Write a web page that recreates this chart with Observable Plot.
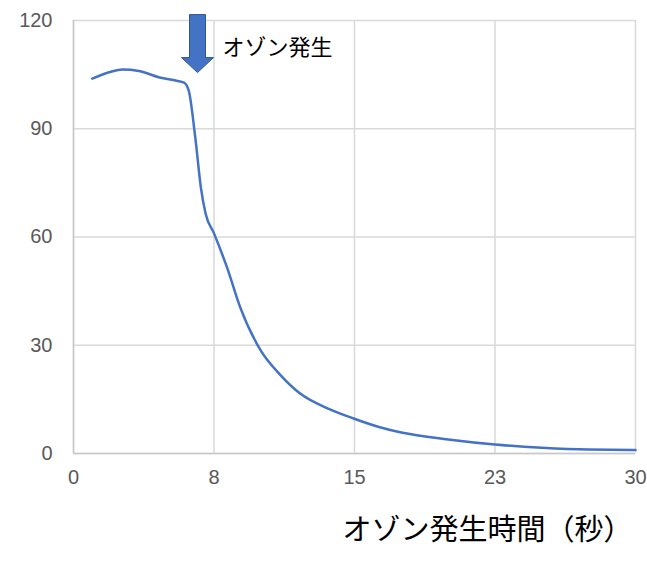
<!DOCTYPE html>
<html><head><meta charset="utf-8">
<script src="https://cdn.jsdelivr.net/npm/d3@7"></script>
<script src="https://cdn.jsdelivr.net/npm/@observablehq/plot@0.6"></script>
<style>
body{margin:0;background:#fff;}
</style>
</head><body>
<div id="chart"></div>
<script>
const seconds = [1, 2, 2.6, 3.5, 4.6, 5.5, 5.9, 6.15, 6.5, 6.8, 7.05, 7.5, 8.2, 8.9, 10, 11, 12.1, 13.56, 14.95, 16.4, 17.5, 20, 22.5, 25, 27.5, 30];
const values = [103.9, 105.8, 106.4, 106, 104.2, 103.3, 102.8, 100.6, 87.6, 73.7, 66.5, 61, 51.5, 40.5, 28.5, 22, 16.6, 12.5, 9.7, 7.2, 5.8, 3.9, 2.5, 1.6, 1.1, 1.0];
const xTicks = [0, 7.5, 15, 22.5, 30];
const yTicks = [0, 30, 60, 90, 120];
const arrowX = [6.62];
const arrowY = [113.6];
const noteText = ["オゾン発生"];
const noteX = [7.95];
const noteY = [112.5];
const xTitle = "オゾン発生時間（秒）";

const data = seconds.map((s, i) => ({s, v: values[i]}));

const blockArrow = {
  draw(ctx, size) {
    const sw = 8, hw = 16, top = -29, neck = 14, tip = 29;
    ctx.moveTo(-sw, top);
    ctx.lineTo(sw, top);
    ctx.lineTo(sw, neck);
    ctx.lineTo(hw, neck);
    ctx.lineTo(0, tip);
    ctx.lineTo(-hw, neck);
    ctx.lineTo(-sw, neck);
    ctx.closePath();
  }
};

const chart = Plot.plot({
  width: 647,
  height: 569,
  marginLeft: 73,
  marginRight: 12,
  marginTop: 20,
  marginBottom: 116,
  style: {fontFamily: "'Liberation Sans', Arial, sans-serif", fontSize: "20px", color: "#595959", background: "#fff"},
  x: {domain: [0, 30], ticks: xTicks, tickFormat: d => Math.round(d), label: null},
  y: {domain: [0, 120], ticks: yTicks, label: null},
  marks: [
    Plot.gridX(xTicks, {stroke: "#d9d9d9", strokeOpacity: 1, strokeWidth: 1.5}),
    Plot.gridY(yTicks, {stroke: "#d9d9d9", strokeOpacity: 1, strokeWidth: 1.5}),
    Plot.ruleX([0], {stroke: "#c8c8c8", strokeWidth: 1.5}),
    Plot.ruleY([0], {stroke: "#c8c8c8", strokeWidth: 1.5}),
    Plot.axisX(xTicks, {tickSize: 0, tickPadding: 16, fontSize: 20, fill: "#595959", tickFormat: d => Math.round(d)}),
    Plot.axisY(yTicks, {tickSize: 0, tickPadding: 21, fontSize: 20, fill: "#595959"}),
    Plot.line(data, {x: "s", y: "v", stroke: "#4472C4", strokeWidth: 2.5, curve: "monotone-x"}),
    Plot.dot(arrowX.map((x, i) => ({x, y: arrowY[i]})), {x: "x", y: "y", symbol: blockArrow, fill: "#4472C4", stroke: "#2F5597", strokeWidth: 1, r: 10, clip: false}),
    Plot.text(noteText.map((t, i) => ({t, x: noteX[i], y: noteY[i]})), {x: "x", y: "y", text: "t", textAnchor: "start", fontSize: 22, fill: "#000", fontFamily: "'Noto Sans CJK JP', sans-serif"}),
    Plot.text([xTitle], {frameAnchor: "bottom-right", text: d => d, dy: 86, dx: -3, fontSize: 29, fill: "#000", fontFamily: "'Noto Sans CJK JP', sans-serif"})
  ]
});
document.getElementById("chart").append(chart);
</script>
</body></html>
